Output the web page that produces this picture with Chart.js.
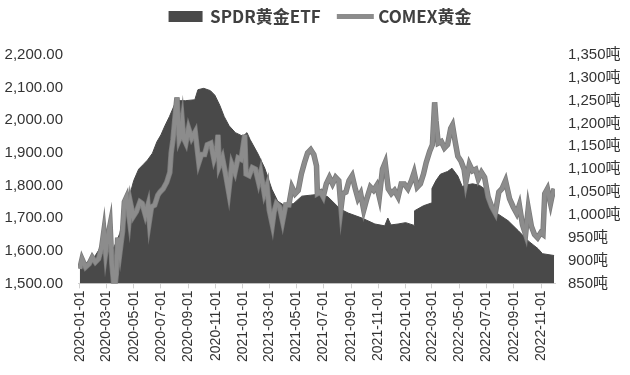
<!DOCTYPE html>
<html>
<head>
<meta charset="utf-8">
<script src="https://cdn.jsdelivr.net/npm/chart.js@4/dist/chart.umd.min.js"></script>
<style>
  html, body { margin: 0; padding: 0; background: #fff; }
  #wrap { width: 630px; height: 375px; }
</style>
</head>
<body>
<div id="wrap"><canvas id="goldChart" width="630" height="375"></canvas></div>
<script>
// x axis tick labels (every two months)
const tickLabels = ['2020-01-01', '2020-03-01', '2020-05-01', '2020-07-01', '2020-09-01', '2020-11-01',
    '2021-01-01', '2021-03-01', '2021-05-01', '2021-07-01', '2021-09-01', '2021-11-01',
    '2022-01-01', '2022-03-01', '2022-05-01', '2022-07-01', '2022-09-01', '2022-11-01'];

// COMEX gold price (left axis)
const goldDates = ['2020-01-01', '2020-01-06', '2020-01-14', '2020-01-22', '2020-01-29', '2020-02-05', '2020-02-12',
    '2020-02-19', '2020-02-24', '2020-02-28', '2020-03-04', '2020-03-09', '2020-03-13', '2020-03-17', '2020-03-19',
    '2020-03-23', '2020-03-26', '2020-03-31', '2020-04-06', '2020-04-10', '2020-04-15', '2020-04-21', '2020-04-24',
    '2020-04-30', '2020-05-07', '2020-05-15', '2020-05-20', '2020-05-27', '2020-06-02', '2020-06-05', '2020-06-10',
    '2020-06-17', '2020-06-24', '2020-06-29', '2020-07-06', '2020-07-14', '2020-07-21', '2020-07-24', '2020-07-28',
    '2020-08-03', '2020-08-06', '2020-08-11', '2020-08-14', '2020-08-18', '2020-08-21', '2020-08-26', '2020-09-01',
    '2020-09-08', '2020-09-16', '2020-09-21', '2020-09-24', '2020-09-30', '2020-10-07', '2020-10-13', '2020-10-21',
    '2020-10-28', '2020-11-03', '2020-11-06', '2020-11-09', '2020-11-16', '2020-11-23', '2020-11-30', '2020-12-07',
    '2020-12-14', '2020-12-21', '2020-12-28', '2021-01-05', '2021-01-08', '2021-01-15', '2021-01-22', '2021-01-29',
    '2021-02-05', '2021-02-10', '2021-02-18', '2021-02-24', '2021-03-01', '2021-03-08', '2021-03-12', '2021-03-17',
    '2021-03-24', '2021-03-31', '2021-04-07', '2021-04-14', '2021-04-21', '2021-04-28', '2021-05-05', '2021-05-12',
    '2021-05-19', '2021-05-26', '2021-06-02', '2021-06-09', '2021-06-15', '2021-06-17', '2021-06-24', '2021-06-30',
    '2021-07-07', '2021-07-14', '2021-07-21', '2021-07-28', '2021-08-04', '2021-08-09', '2021-08-13', '2021-08-20',
    '2021-08-27', '2021-09-03', '2021-09-10', '2021-09-16', '2021-09-22', '2021-09-29', '2021-10-06', '2021-10-14',
    '2021-10-21', '2021-10-28', '2021-11-03', '2021-11-10', '2021-11-16', '2021-11-23', '2021-11-30', '2021-12-07',
    '2021-12-15', '2021-12-22', '2021-12-29', '2022-01-06', '2022-01-14', '2022-01-20', '2022-01-27', '2022-02-03',
    '2022-02-10', '2022-02-16', '2022-02-24', '2022-03-02', '2022-03-07', '2022-03-10', '2022-03-15', '2022-03-22',
    '2022-03-29', '2022-04-05', '2022-04-12', '2022-04-16', '2022-04-22', '2022-04-28', '2022-05-05', '2022-05-12',
    '2022-05-16', '2022-05-24', '2022-05-31', '2022-06-07', '2022-06-13', '2022-06-20', '2022-06-27', '2022-07-05',
    '2022-07-13', '2022-07-21', '2022-07-29', '2022-08-05', '2022-08-13', '2022-08-22', '2022-08-30', '2022-09-07',
    '2022-09-13', '2022-09-20', '2022-09-27', '2022-10-03', '2022-10-10', '2022-10-17', '2022-10-24', '2022-10-31',
    '2022-11-05', '2022-11-09', '2022-11-15', '2022-11-22', '2022-11-25', '2022-11-30'];
const goldValues = [1545, 1575, 1550, 1560, 1580, 1565, 1575,
    1610, 1660, 1595, 1645, 1680, 1560, 1500, 1480,
    1530, 1640, 1595, 1660, 1750, 1765, 1700, 1745,
    1705, 1720, 1750, 1745, 1710, 1740, 1690, 1735,
    1740, 1770, 1780, 1790, 1810, 1840, 1900, 1940,
    2030, 2070, 1940, 1950, 1995, 1945, 1930, 1975,
    1945, 1965, 1905, 1870, 1895, 1895, 1925, 1930,
    1880, 1905, 1955, 1860, 1885, 1835, 1780, 1865,
    1840, 1885, 1880, 1955, 1835, 1830, 1855, 1850,
    1810, 1840, 1775, 1800, 1725, 1680, 1720, 1745,
    1735, 1690, 1740, 1740, 1795, 1775, 1785, 1835,
    1870, 1900, 1910, 1895, 1860, 1775, 1780, 1765,
    1805, 1825, 1805, 1825, 1815, 1730, 1775, 1780,
    1815, 1830, 1790, 1760, 1775, 1725, 1760, 1795,
    1785, 1800, 1765, 1850, 1870, 1790, 1775, 1785,
    1765, 1805, 1805, 1790, 1815, 1840, 1795, 1805,
    1835, 1870, 1905, 1925, 2055, 2000, 1930, 1935,
    1915, 1925, 1975, 1985, 1935, 1890, 1875, 1850,
    1810, 1865, 1845, 1850, 1820, 1840, 1825, 1765,
    1735, 1715, 1780, 1790, 1815, 1760, 1735, 1715,
    1740, 1680, 1650, 1730, 1675, 1650, 1640, 1655,
    1650, 1775, 1790, 1745, 1765, 1790];

// SPDR gold ETF holdings, tonnes (right axis)
const etfDates = ['2020-01-01', '2020-01-15', '2020-02-01', '2020-02-14', '2020-02-28', '2020-03-09', '2020-03-16',
    '2020-03-31', '2020-04-08', '2020-04-15', '2020-04-24', '2020-05-01', '2020-05-12', '2020-05-22', '2020-06-01',
    '2020-06-12', '2020-06-22', '2020-07-01', '2020-07-10', '2020-07-20', '2020-07-31', '2020-08-10', '2020-08-25',
    '2020-09-15', '2020-09-22', '2020-10-05', '2020-10-20', '2020-10-30', '2020-11-10', '2020-11-20', '2020-12-01',
    '2020-12-15', '2021-01-01', '2021-01-10', '2021-01-17', '2021-02-04', '2021-02-19', '2021-03-07', '2021-03-20',
    '2021-04-05', '2021-04-25', '2021-05-13', '2021-06-01', '2021-06-20', '2021-07-10', '2021-08-07', '2021-08-25',
    '2021-09-25', '2021-10-24', '2021-11-15', '2021-11-22', '2021-11-29', '2021-12-15', '2022-01-01', '2022-01-20',
    '2022-01-21', '2022-02-10', '2022-02-28', '2022-03-01', '2022-03-10', '2022-03-20', '2022-04-05', '2022-04-15',
    '2022-04-28', '2022-05-08', '2022-05-15', '2022-05-31', '2022-06-15', '2022-06-30', '2022-07-14', '2022-07-27',
    '2022-08-19', '2022-09-11', '2022-10-03', '2022-10-25', '2022-11-04', '2022-11-30'];
const etfValues = [892, 895, 905, 925, 945, 950, 925,
    960, 1000, 1040, 1050, 1075, 1100, 1110, 1120,
    1135, 1160, 1175, 1195, 1215, 1240, 1250, 1250,
    1252, 1274, 1277, 1272, 1262, 1240, 1215, 1195,
    1180, 1172, 1180, 1165, 1133, 1102, 1056, 1030,
    1020, 1025, 1041, 1043, 1045, 1040, 1013, 1004,
    993, 980, 976, 993, 978, 980, 983, 977,
    1009, 1020, 1026, 1058, 1075, 1089, 1095, 1102,
    1085, 1062, 1065, 1068, 1065, 1055, 1015, 1002,
    987, 965, 943, 926, 915, 911];

const DAY = 86400000;
const START = Date.UTC(2020, 0, 1);
function dayIndex(s) {
    const p = s.split('-');
    return Math.round((Date.UTC(+p[0], +p[1] - 1, +p[2]) - START) / DAY);
}
const tickDays = tickLabels.map(dayIndex);

// legend symbols: drawn a bit wider than the reserved box so the marker sits close to its text
function makeSymbol(w, h, draw) {
    const c = document.createElement('canvas');
    c.width = w;
    c.height = h;
    draw(c.getContext('2d'));
    return c;
}
const etfSymbol = makeSymbol(55, 11, g => {
    g.fillStyle = '#494949';
    g.fillRect(17, 0, 34, 11);
});
const goldSymbol = makeSymbol(55, 11, g => {
    g.fillStyle = '#8c8c8c';
    g.fillRect(17, 3, 37, 5);
});

// extra room under the legend so the plot starts lower
const legendSpace = {
    id: 'legendSpace',
    beforeInit(chart) {
        const fit = chart.legend.fit;
        chart.legend.fit = function () {
            fit.call(this);
            this.height += 20;
        };
    }
};

const ctx = document.getElementById('goldChart').getContext('2d');
const sans = '"Liberation Sans", Arial, "Noto Sans CJK SC", sans-serif';

new Chart(ctx, {
    type: 'line',
    data: {
        datasets: [
            {
                label: 'SPDR黄金ETF',
                data: etfDates.map((d, i) => ({ x: dayIndex(d), y: etfValues[i] })),
                yAxisID: 'y1',
                borderColor: '#494949',
                backgroundColor: '#494949',
                borderWidth: 1,
                pointRadius: 0,
                fill: 'start',
                order: 3
            },
            {
                label: 'COMEX黄金',
                data: goldDates.map((d, i) => ({ x: dayIndex(d), y: goldValues[i] })),
                yAxisID: 'y',
                borderColor: '#8c8c8c',
                backgroundColor: '#8c8c8c',
                borderWidth: 4,
                pointRadius: 0,
                fill: false,
                order: 1
            },
            {
                // slightly darker edge under the gold line
                label: 'outline',
                data: goldDates.map((d, i) => ({ x: dayIndex(d), y: goldValues[i] })),
                yAxisID: 'y',
                borderColor: '#7a7a7a',
                borderWidth: 5.5,
                pointRadius: 0,
                fill: false,
                order: 2
            }
        ]
    },
    plugins: [legendSpace],
    options: {
        responsive: false,
        animation: false,
        layout: { padding: { left: 4, right: 6, top: 4, bottom: 11 } },
        plugins: {
            legend: {
                position: 'top',
                labels: {
                    usePointStyle: true,
                    pointStyleWidth: 45,
                    padding: 4,
                    color: '#404040',
                    font: { family: '"Noto Sans CJK SC", sans-serif', size: 17, weight: 'bold' },
                    filter: item => item.datasetIndex !== 2,
                    sort: (a, b) => a.datasetIndex - b.datasetIndex,
                    generateLabels: chart => Chart.defaults.plugins.legend.labels.generateLabels(chart).map(item => {
                        item.pointStyle = item.datasetIndex === 0 ? etfSymbol : goldSymbol;
                        return item;
                    })
                }
            },
            tooltip: { enabled: false }
        },
        scales: {
            x: {
                type: 'linear',
                min: -4,
                max: 1066,
                afterBuildTicks: axis => {
                    axis.ticks = tickDays.map(v => ({ value: v }));
                },
                ticks: {
                    autoSkip: false,
                    minRotation: 90,
                    maxRotation: 90,
                    padding: 2,
                    color: '#333',
                    font: { family: sans, size: 14 },
                    callback: (value, index) => tickLabels[index]
                },
                grid: { drawOnChartArea: false, drawTicks: true, tickLength: 5, color: '#d0d0d0' },
                border: { color: '#d0d0d0' }
            },
            y: {
                position: 'left',
                min: 1500,
                max: 2200,
                afterFit: scale => { scale.width = 74; },
                ticks: {
                    stepSize: 100,
                    padding: 15,
                    color: '#333',
                    font: { family: sans, size: 15 },
                    callback: v => v.toLocaleString('en-US', { minimumFractionDigits: 2, maximumFractionDigits: 2 })
                },
                grid: { display: false, drawTicks: false },
                border: { display: false }
            },
            y1: {
                position: 'right',
                min: 850,
                max: 1350,
                afterFit: scale => { scale.width = 69; },
                ticks: {
                    stepSize: 50,
                    padding: 13,
                    color: '#333',
                    font: { family: sans, size: 15 },
                    callback: v => v.toLocaleString('en-US') + '吨'
                },
                grid: { display: false, drawTicks: false },
                border: { display: false }
            }
        }
    }
});
</script>
</body>
</html>
